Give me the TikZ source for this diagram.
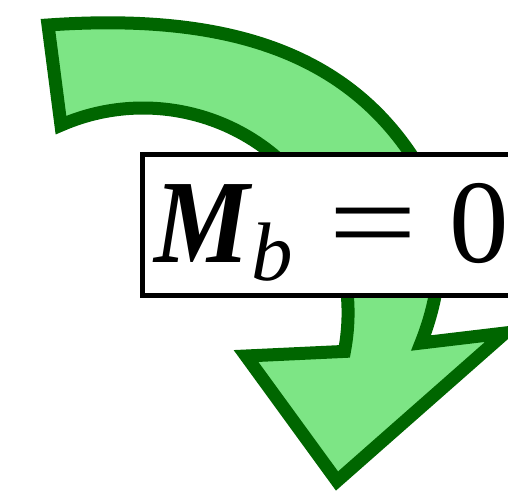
\documentclass[tikz,border=0pt]{standalone}
\usepackage{fontspec}
\setmainfont{Liberation Serif}
\usepackage{graphicx}
\definecolor{arrowfill}{RGB}{125,229,133}
\definecolor{arrowline}{RGB}{0,102,0}
\tikzset{
  arrowshape/.style={fill=arrowfill, draw=arrowline, line width=13pt, line join=miter, miter limit=10},
  labelbox/.style={draw=black, fill=white, line width=5pt, inner xsep=12.1pt, inner ysep=0pt,
    outer sep=0pt, text height=108pt, text depth=33pt, font=\fontsize{119}{119}\selectfont}
}
\begin{document}
\begin{tikzpicture}[x=1pt, y=-1pt]
\useasboundingbox (0,0) rectangle (508,491);
\clip (0,0) rectangle (508,491);
\path[arrowshape]
  (48,25) .. controls (223.6,12.7) and (339.1,51.6) .. (408,150)
  .. controls (450,210) and (445,283) .. (421,343)
  -- (505,333) -- (337,481) -- (246,356) -- (344.4,351.4)
  arc[start angle=10.8, end angle=-113.6, radius=205] -- cycle;
\node[labelbox, anchor=north west] (lbl) at (142.5,154)
  {\makebox[96.4pt][l]{\bfseries\itshape\scalebox{0.9}[1]{M}}\makebox[77pt][l]{\raisebox{-18pt}{\fontsize{83}{83}\selectfont\itshape b}}\makebox[121pt][l]{\scalebox{1.33}[1]{=}}0};
\end{tikzpicture}
\end{document}
